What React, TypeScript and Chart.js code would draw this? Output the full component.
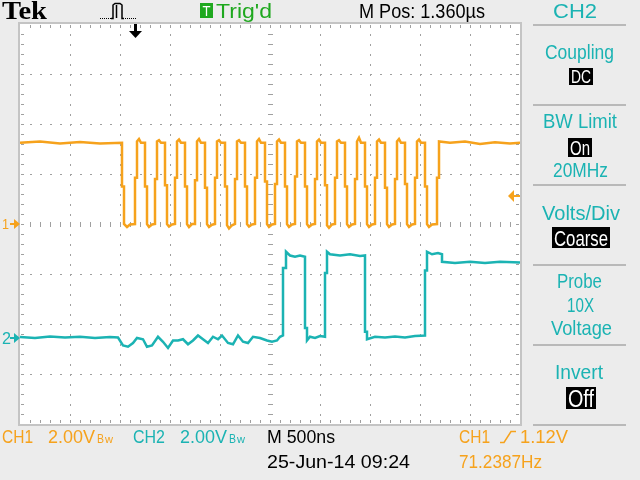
import React, { useEffect, useRef } from "react";
import { Chart, registerables } from "chart.js";

Chart.register(...registerables);

// ---- data ----
// time axis: 500 ns/div, 10 divisions
const timeRangeNs = [0, 5000];
// CH1: 2 V/div, ground at screen centre
const ch1RangeV = [-8, 8];
// CH2: 2 V/div, ground marker 2.28 div below centre
const ch2RangeV = [-3.44, 12.56];

// [time ns, volts]
const ch1Trace: [number, number][] = [
  [0, 3.25], [200, 3.3], [400, 3.22], [600, 3.28], [800, 3.22], [1020, 3.25],
  [1020, 1.5], [1040, 1.5], [1040, 0], [1070, -0.12], [1100, -0.02], [1150, 0],
  [1150, 1.85], [1170, 1.85], [1170, 3.3], [1190, 3.4], [1210, 3.25], [1250, 3.25],
  [1250, 1.5], [1270, 1.5], [1270, 0], [1290, -0.12], [1320, -0.02], [1350, 0],
  [1350, 1.8], [1370, 1.8], [1370, 3.3], [1390, 3.35], [1410, 3.25], [1450, 3.25],
  [1450, 1.55], [1470, 1.55], [1470, 0], [1490, -0.1], [1520, -0.02], [1550, 0],
  [1550, 1.85], [1570, 1.85], [1570, 3.3], [1590, 3.38], [1610, 3.25], [1650, 3.25],
  [1650, 1.5], [1670, 1.5], [1670, 0], [1690, -0.12], [1720, 0], [1750, 0],
  [1750, 1.75], [1770, 1.75], [1770, 3.3], [1790, 3.4], [1810, 3.25], [1850, 3.25],
  [1850, 1.45], [1870, 1.45], [1870, 0], [1890, -0.12], [1920, -0.03], [1950, 0],
  [1950, 1.85], [1970, 1.85], [1970, 3.3], [1990, 3.35], [2010, 3.25], [2050, 3.25],
  [2050, 1.5], [2070, 1.5], [2070, -0.05], [2090, -0.18], [2120, -0.05], [2150, 0],
  [2150, 1.8], [2170, 1.8], [2170, 3.3], [2190, 3.35], [2210, 3.25], [2250, 3.25],
  [2250, 1.5], [2270, 1.5], [2270, 0], [2290, -0.1], [2320, -0.02], [2350, 0],
  [2350, 1.85], [2370, 1.85], [2370, 3.3], [2390, 3.4], [2410, 3.25], [2450, 3.25],
  [2450, 1.7], [2470, 1.7], [2470, 0], [2490, -0.12], [2520, -0.02], [2550, 0],
  [2550, 1.6], [2570, 1.6], [2570, 3.3], [2590, 3.38], [2610, 3.25], [2650, 3.25],
  [2650, 1.5], [2670, 1.5], [2670, 0], [2690, -0.12], [2720, -0.02], [2750, 0],
  [2750, 1.9], [2770, 1.9], [2770, 3.3], [2790, 3.35], [2810, 3.25], [2850, 3.25],
  [2850, 1.5], [2870, 1.5], [2870, 0], [2890, -0.12], [2920, -0.02], [2950, 0],
  [2950, 1.8], [2970, 1.8], [2970, 3.3], [2990, 3.38], [3010, 3.25], [3050, 3.25],
  [3050, 1.55], [3070, 1.55], [3070, -0.05], [3090, -0.15], [3120, -0.02], [3150, 0],
  [3150, 1.85], [3170, 1.85], [3170, 3.3], [3190, 3.35], [3210, 3.25], [3250, 3.25],
  [3250, 1.5], [3270, 1.5], [3270, 0], [3290, -0.12], [3320, -0.02], [3350, 0],
  [3350, 1.8], [3370, 1.8], [3370, 3.3], [3390, 3.45], [3410, 3.25], [3450, 3.25],
  [3450, 1.5], [3470, 1.5], [3470, 0], [3490, -0.12], [3520, -0.02], [3550, 0],
  [3550, 1.85], [3570, 1.85], [3570, 3.3], [3590, 3.38], [3610, 3.25], [3650, 3.25],
  [3650, 1.45], [3670, 1.45], [3670, 0], [3690, -0.12], [3720, -0.02], [3750, 0],
  [3750, 1.8], [3770, 1.8], [3770, 3.3], [3790, 3.4], [3810, 3.25], [3850, 3.25],
  [3850, 1.6], [3870, 1.6], [3870, 0], [3890, -0.12], [3920, -0.02], [3950, 0],
  [3950, 1.85], [3970, 1.85], [3970, 3.3], [3990, 3.38], [4010, 3.25], [4050, 3.25],
  [4050, 1.5], [4070, 1.5], [4070, 0], [4090, -0.12], [4120, -0.02], [4170, 0],
  [4170, 1.85], [4190, 1.85], [4190, 3.3], [4300, 3.25], [4450, 3.3], [4600, 3.2],
  [4750, 3.27], [4900, 3.22], [5000, 3.25],
];

const ch2Trace: [number, number][] = [
  [0, 0.04], [150, 0], [300, 0.06], [450, 0.02], [600, 0.05], [750, 0], [900, 0.04], [980, 0.02],
  [1030, -0.3], [1080, -0.35], [1130, -0.2], [1170, 0], [1230, -0.05], [1270, -0.35],
  [1320, -0.3], [1380, 0.05], [1430, -0.15], [1480, -0.4], [1530, -0.1], [1580, -0.1],
  [1630, -0.05], [1680, -0.25], [1730, -0.1], [1780, 0.1], [1830, -0.05], [1880, -0.2],
  [1930, 0.05], [1980, -0.05], [2020, 0.1], [2080, -0.2], [2130, -0.25], [2180, 0.1],
  [2230, -0.15], [2280, -0.2], [2330, 0.05], [2400, 0], [2470, -0.1], [2520, -0.15],
  [2570, -0.1], [2600, 0.05], [2630, 0.1],
  [2630, 2.8], [2660, 2.8], [2660, 3.45], [2700, 3.3], [2750, 3.25], [2800, 3.3], [2850, 3.25],
  [2850, 0.4], [2870, 0.4], [2870, -0.1], [2900, 0.05], [2950, 0], [3000, 0.08], [3050, 0.05],
  [3050, 2.6], [3070, 2.6], [3070, 3.45], [3100, 3.35], [3200, 3.3], [3300, 3.35], [3400, 3.28], [3450, 3.3],
  [3450, 0.25], [3470, 0.25], [3470, -0.05], [3550, 0.05], [3650, 0.02], [3750, 0.06],
  [3850, 0.02], [3950, 0.08], [4050, 0.1],
  [4050, 2.7], [4070, 2.7], [4070, 3.45], [4120, 3.35], [4180, 3.4], [4220, 3.35],
  [4220, 3.05], [4350, 3.0], [4500, 3.05], [4650, 3.0], [4800, 3.05], [5000, 3.02],
];

const headerLabels = ["Tek", "Trig'd", "M Pos: 1.360µs", "CH2"];
const panelLabels = ["Coupling", "DC", "BW Limit", "On", "20MHz", "Volts/Div", "Coarse", "Probe", "10X", "Voltage", "Invert", "Off"];
const footerLabels = ["CH1", "2.00V", "CH2", "2.00V", "M 500ns", "25-Jun-14 09:24", "1.12V", "71.2387Hz"];
const triggerLevelV = 1.12;
const triggerTimeNs = 1150;

// ---- styles ----
const CH1_COLOR = "#f6a21c";
const CH2_COLOR = "#1bb3b3";
const GREEN = "#1fa81f";
const BG = "#ececec";
const GRID = "#a0a0a0";
const SANS = "'Liberation Sans', Arial, sans-serif";

function txt(ctx: CanvasRenderingContext2D, s: string, x: number, base: number, w: number, size: number, color: string, font = SANS, weight = "normal") {
  ctx.save();
  ctx.font = `${weight} ${size}px ${font}`;
  const m = ctx.measureText(s).width || 1;
  ctx.translate(x, base);
  ctx.scale(w / m, 1);
  ctx.fillStyle = color;
  ctx.textAlign = "left";
  ctx.textBaseline = "alphabetic";
  ctx.fillText(s, 0, 0);
  ctx.restore();
}

function boxTxt(ctx: CanvasRenderingContext2D, s: string, x: number, y: number, w: number, h: number) {
  ctx.fillStyle = "#000";
  ctx.fillRect(x, y, w, h);
  txt(ctx, s, x + 2, y + h - 2.5, w - 4, h + 1, "#fff");
}

const scopePlugin = {
  id: "scope",
  beforeDraw(chart: any) {
    const ctx: CanvasRenderingContext2D = chart.ctx;
    const { left, top, right, bottom } = chart.chartArea;
    ctx.save();
    ctx.fillStyle = BG;
    ctx.fillRect(0, 0, chart.width, chart.height);
    ctx.fillStyle = "#fff";
    ctx.fillRect(left, top, right - left, bottom - top);
    const dx = (right - left) / 10;
    const dy = (bottom - top) / 8;
    const cx = left + dx * 5;
    const cy = top + dy * 4;
    ctx.fillStyle = GRID;
    // dotted grid
    for (let i = 1; i < 10; i++) {
      const x = Math.round(left + dx * i);
      if (i === 5) continue;
      for (let y = top + 10; y < bottom; y += 10) ctx.fillRect(x, y, 1, 2);
    }
    for (let j = 1; j < 8; j++) {
      const y = Math.round(top + dy * j);
      if (j === 4) continue;
      for (let x = left + 10; x < right; x += 10) ctx.fillRect(x, y, 2, 1);
    }
    // centre cross with ticks
    for (let y = top + 10; y < bottom; y += 10) ctx.fillRect(cx - 2, y, 5, 1);
    for (let x = left + 10; x < right; x += 10) ctx.fillRect(x, cy - 2, 1, 5);
    // edge ticks
    for (let x = left + 10; x < right; x += 10) {
      ctx.fillRect(x, top + 1, 1, 3);
      ctx.fillRect(x, bottom - 4, 1, 3);
    }
    for (let y = top + 10; y < bottom; y += 10) {
      ctx.fillRect(left + 1, y, 3, 1);
      ctx.fillRect(right - 4, y, 3, 1);
    }
    // border
    ctx.strokeStyle = "#c4c4c4";
    ctx.lineWidth = 2;
    ctx.strokeRect(left - 1, top - 1, right - left + 2, bottom - top + 2);
    ctx.restore();
  },
  afterDraw(chart: any) {
    const ctx: CanvasRenderingContext2D = chart.ctx;
    const { left, top, right } = chart.chartArea;
    const y1 = chart.scales.y1;
    const y2 = chart.scales.y2;
    const xs = chart.scales.x;
    ctx.save();

    // ground markers
    const g1 = Math.round(y1.getPixelForValue(0));
    const g2 = Math.round(y2.getPixelForValue(0));
    const groundArrow = (y: number, color: string) => {
      ctx.fillStyle = color;
      ctx.fillRect(left - 10, y - 1, 5, 2);
      ctx.beginPath();
      ctx.moveTo(left - 6, y - 5);
      ctx.lineTo(left, y);
      ctx.lineTo(left - 6, y + 5);
      ctx.closePath();
      ctx.fill();
    };
    groundArrow(g1, CH1_COLOR);
    txt(ctx, "1", 2, g1 + 5, 7, 15, CH1_COLOR);
    groundArrow(g2, CH2_COLOR);
    txt(ctx, "2", 2, g2 + 6, 9, 17, CH2_COLOR);

    // trigger level marker (right)
    const tl = Math.round(y1.getPixelForValue(triggerLevelV));
    ctx.fillStyle = CH1_COLOR;
    ctx.fillRect(right - 6, tl - 1, 6, 2);
    ctx.beginPath();
    ctx.moveTo(right - 12, tl);
    ctx.lineTo(right - 6, tl - 6);
    ctx.lineTo(right - 6, tl + 6);
    ctx.closePath();
    ctx.fill();

    // trigger position arrow (top)
    const tx = Math.round(xs.getPixelForValue(triggerTimeNs));
    ctx.fillStyle = "#000";
    ctx.fillRect(tx - 1, top, 3, 8);
    ctx.beginPath();
    ctx.moveTo(tx - 6, top + 7);
    ctx.lineTo(tx + 7, top + 7);
    ctx.lineTo(tx + 0.5, top + 14);
    ctx.closePath();
    ctx.fill();

    // header
    txt(ctx, headerLabels[0], 2, 19, 45, 26, "#000", "'Liberation Serif', 'Times New Roman', serif", "bold");
    // trigger icon
    ctx.fillStyle = "#000";
    for (let x = 100; x <= 110; x += 2) ctx.fillRect(x, 18, 1, 1);
    for (let x = 125; x <= 135; x += 2) ctx.fillRect(x, 18, 1, 1);
    ctx.strokeStyle = "#000";
    ctx.lineWidth = 1.5;
    ctx.beginPath();
    ctx.moveTo(111, 18.5);
    ctx.lineTo(113, 18.5);
    ctx.lineTo(113, 5);
    ctx.lineTo(115, 3.5);
    ctx.lineTo(120, 3.5);
    ctx.lineTo(122, 5);
    ctx.lineTo(122, 18.5);
    ctx.lineTo(124, 18.5);
    ctx.stroke();
    ctx.beginPath();
    ctx.moveTo(116.5, 5);
    ctx.lineTo(116.5, 18);
    ctx.stroke();
    // Trig'd
    ctx.fillStyle = GREEN;
    ctx.fillRect(200, 3, 13, 15);
    txt(ctx, "T", 202.5, 16, 8, 14, "#fff");
    txt(ctx, headerLabels[1], 216, 18, 56, 20, GREEN);
    txt(ctx, headerLabels[2], 359, 18, 126, 20, "#000");
    txt(ctx, headerLabels[3], 553, 18, 44, 20, CH2_COLOR);

    // right panel separators
    ctx.fillStyle = "#b9b9b9";
    [24, 104, 184, 264, 344, 424].forEach((y) => ctx.fillRect(533, y, 93, 2));

    // right panel
    const P = 21;
    txt(ctx, panelLabels[0], 545, 59, 69, P, CH2_COLOR);
    boxTxt(ctx, panelLabels[1], 569, 68, 24, 17);
    txt(ctx, panelLabels[2], 543, 128, 74, P, CH2_COLOR);
    boxTxt(ctx, panelLabels[3], 568, 138, 24, 19);
    txt(ctx, panelLabels[4], 553, 177, 55, P, CH2_COLOR);
    txt(ctx, panelLabels[5], 542, 220, 78, P, CH2_COLOR);
    boxTxt(ctx, panelLabels[6], 552, 227, 58, 21);
    txt(ctx, panelLabels[7], 557, 288, 45, P, CH2_COLOR);
    txt(ctx, panelLabels[8], 567, 312, 27, P, CH2_COLOR);
    txt(ctx, panelLabels[9], 551, 335, 61, P, CH2_COLOR);
    txt(ctx, panelLabels[10], 555, 379, 48, P, CH2_COLOR);
    boxTxt(ctx, panelLabels[11], 566, 387, 30, 22);

    // footer
    const F = 19;
    txt(ctx, footerLabels[0], 2, 443, 31, F, CH1_COLOR);
    txt(ctx, footerLabels[1], 48, 443, 47, F, CH1_COLOR);
    txt(ctx, "B", 97, 443, 7, 12, CH1_COLOR);
    txt(ctx, "w", 105, 443, 8, 11, CH1_COLOR);
    txt(ctx, footerLabels[2], 133, 443, 32, F, CH2_COLOR);
    txt(ctx, footerLabels[3], 180, 443, 47, F, CH2_COLOR);
    txt(ctx, "B", 229, 443, 7, 12, CH2_COLOR);
    txt(ctx, "w", 237, 443, 8, 11, CH2_COLOR);
    txt(ctx, footerLabels[4], 267, 443, 68, F, "#000");
    txt(ctx, footerLabels[5], 267, 468, 143, F, "#000");
    txt(ctx, footerLabels[0], 459, 443, 31, F, CH1_COLOR);
    ctx.strokeStyle = CH1_COLOR;
    ctx.lineWidth = 1.5;
    ctx.beginPath();
    ctx.moveTo(500, 442.5);
    ctx.lineTo(504, 442.5);
    ctx.lineTo(511, 431.5);
    ctx.lineTo(516, 431.5);
    ctx.stroke();
    txt(ctx, footerLabels[6], 520, 443, 48, F, CH1_COLOR);
    txt(ctx, footerLabels[7], 459, 468, 83, F, CH1_COLOR);

    ctx.restore();
  },
};

export default function App() {
  const ref = useRef<HTMLCanvasElement>(null);
  useEffect(() => {
    if (!ref.current) return;
    const chart = new Chart(ref.current, {
      type: "line",
      data: {
        datasets: [
          {
            label: "CH1",
            data: ch1Trace.map(([x, y]) => ({ x, y })),
            borderColor: CH1_COLOR,
            borderWidth: 2.5,
            pointRadius: 0,
            tension: 0,
            fill: false,
            yAxisID: "y1",
          },
          {
            label: "CH2",
            data: ch2Trace.map(([x, y]) => ({ x, y })),
            borderColor: CH2_COLOR,
            borderWidth: 2.5,
            pointRadius: 0,
            tension: 0,
            fill: false,
            yAxisID: "y2",
          },
        ],
      },
      options: {
        responsive: false,
        animation: false,
        devicePixelRatio: 1,
        layout: { padding: { left: 20, top: 24, right: 120, bottom: 56 } },
        plugins: { legend: { display: false }, title: { display: false }, tooltip: { enabled: false } },
        events: [],
        scales: {
          x: { type: "linear", min: timeRangeNs[0], max: timeRangeNs[1], display: false },
          y1: { type: "linear", min: ch1RangeV[0], max: ch1RangeV[1], display: false },
          y2: { type: "linear", min: ch2RangeV[0], max: ch2RangeV[1], display: false },
        },
      },
      plugins: [scopePlugin],
    });
    return () => chart.destroy();
  }, []);
  return (
    <div style={{ position: "fixed", left: 0, top: 0, width: 640, height: 480 }}>
      <canvas ref={ref} width={640} height={480} style={{ display: "block" }} />
    </div>
  );
}
